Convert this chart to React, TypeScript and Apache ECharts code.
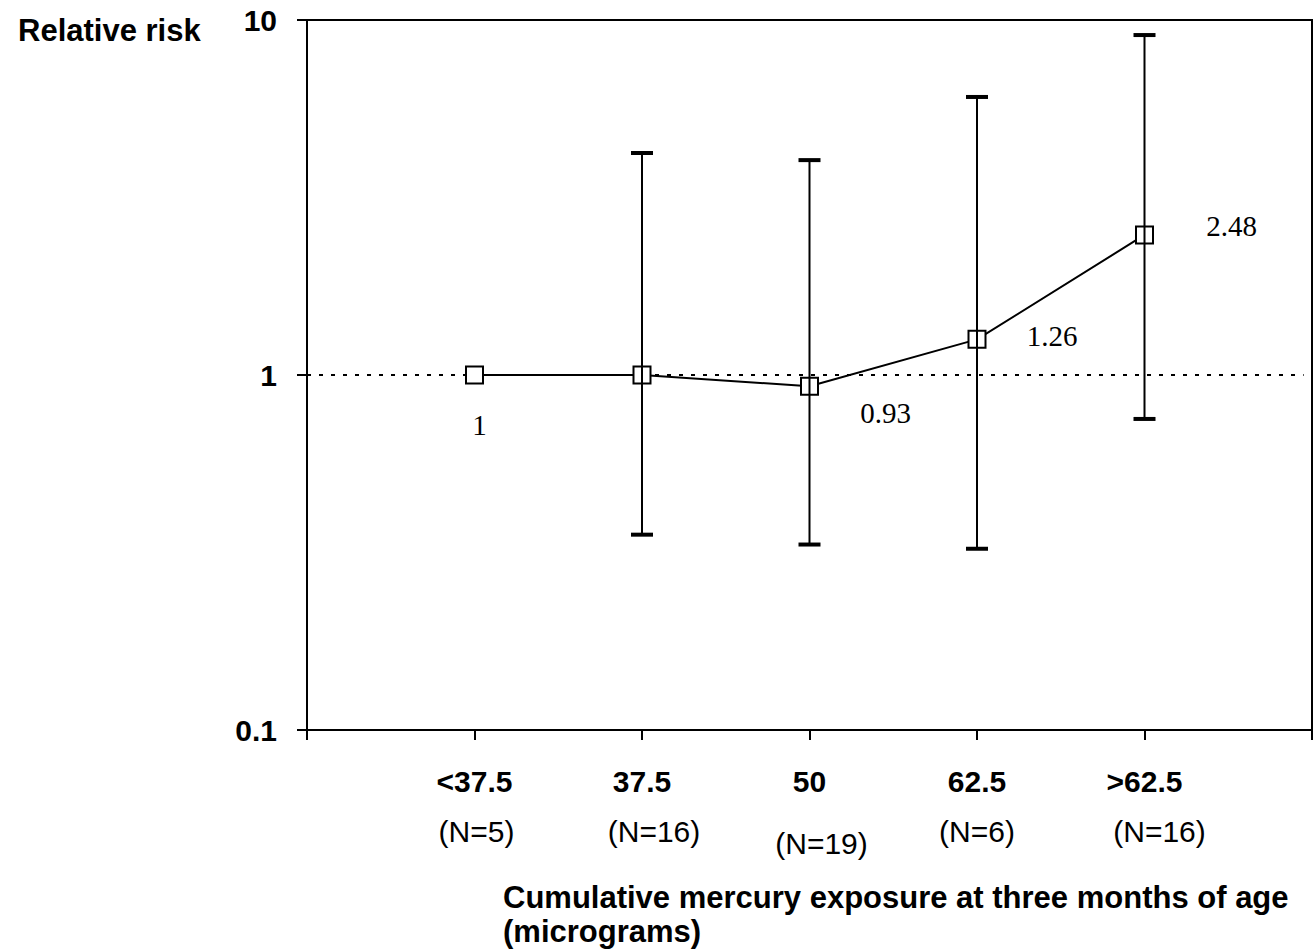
import React, { useEffect, useRef } from "react";
import * as echarts from "echarts";

const CATEGORIES = ["<37.5", "37.5", "50", "62.5", ">62.5"];
const N_LABELS = ["(N=5)", "(N=16)", "(N=19)", "(N=6)", "(N=16)"];
const RELATIVE_RISK = [1, 1.0, 0.93, 1.26, 2.48];
const RR_LABELS = ["1", "", "0.93", "1.26", "2.48"];
const CI_LOW: (number | null)[] = [null, 0.355, 0.333, 0.324, 0.752];
const CI_HIGH: (number | null)[] = [null, 4.22, 4.03, 6.07, 9.07];
const Y_TICK_LABELS = ["0.1", "1", "10"];
const Y_TITLE = "Relative risk";
const X_TITLE = "Cumulative mercury exposure at three months of age\n(micrograms)";

// styling: label offsets (px) and N-label shifts
const LABEL_OFFSETS: [number, number][] = [
  [5, 50],
  [0, 0],
  [76, 27],
  [75, -3],
  [87, -9],
];
const N_SHIFT = [2, 12, 12, 0, 15];
const N_LINE_HEIGHT = [50, 50, 74, 50, 50];

const SANS = "'Liberation Sans', Arial, Helvetica, sans-serif";
const SERIF = "'Liberation Serif', 'Times New Roman', Times, serif";

export default function App() {
  const ref = useRef<HTMLDivElement>(null);

  useEffect(() => {
    if (!ref.current) return;
    const chart = echarts.init(ref.current, undefined, { renderer: "svg" });

    const lineData = RELATIVE_RISK.map((v, i) => ({
      value: [i + 1, v],
      label: {
        show: RR_LABELS[i] !== "",
        formatter: RR_LABELS[i],
        position: "inside",
        offset: LABEL_OFFSETS[i],
        fontFamily: SERIF,
        fontSize: 29,
        color: "#000",
      },
    }));

    const errData: any[] = [];
    CI_LOW.forEach((lo, i) => {
      const hi = CI_HIGH[i];
      if (lo != null && hi != null) errData.push([i + 1, lo, hi]);
    });

    const rich: any = {
      b: { fontFamily: SANS, fontSize: 30, fontWeight: "bold", color: "#000", lineHeight: 50 },
    };
    N_LABELS.forEach((_, i) => {
      rich["n" + i] = {
        fontFamily: SANS,
        fontSize: 30,
        color: "#000",
        lineHeight: N_LINE_HEIGHT[i],
        padding: N_SHIFT[i] >= 0 ? [0, 0, 0, N_SHIFT[i] * 2] : [0, -N_SHIFT[i] * 2, 0, 0],
      };
    });

    const option: any = {
      animation: false,
      backgroundColor: "#fff",
      title: [
        {
          text: Y_TITLE,
          left: 13,
          top: 10,
          textStyle: { fontFamily: SANS, fontSize: 31, fontWeight: "bold", color: "#000", lineHeight: 31 },
        },
        {
          text: X_TITLE,
          left: 498,
          top: 875,
          textStyle: { fontFamily: SANS, fontSize: 31, fontWeight: "bold", color: "#000", lineHeight: 34 },
        },
      ],
      grid: {
        left: 307,
        top: 20,
        right: 2,
        bottom: 222,
        show: true,
        borderColor: "#000",
        borderWidth: 2,
        backgroundColor: "transparent",
      },
      xAxis: {
        type: "value",
        min: 0,
        max: 6,
        interval: 1,
        axisLine: { lineStyle: { color: "#000", width: 2 } },
        axisTick: { show: true, inside: false, length: 10, lineStyle: { color: "#000", width: 2 } },
        splitLine: { show: false },
        axisLabel: {
          margin: 26,
          showMinLabel: true,
          showMaxLabel: true,
          formatter: (v: number) => {
            const i = Math.round(v) - 1;
            if (i < 0 || i >= CATEGORIES.length) return "";
            return `{b|${CATEGORIES[i]}}\n{n${i}|${N_LABELS[i]}}`;
          },
          rich,
        },
      },
      yAxis: {
        type: "log",
        logBase: 10,
        min: 0.1,
        max: 10,
        axisLine: { lineStyle: { color: "#000", width: 2 } },
        axisTick: { show: true, inside: false, length: 10, lineStyle: { color: "#000", width: 2 } },
        minorTick: { show: false },
        splitLine: { show: false },
        axisLabel: {
          margin: 30,
          fontFamily: SANS,
          fontSize: 30,
          fontWeight: "bold",
          color: "#000",
          formatter: (v: number) => {
            const e = Math.round(Math.log10(v));
            return Y_TICK_LABELS[e + 1] ?? "";
          },
        },
      },
      series: [
        {
          type: "line",
          data: lineData,
          z: 3,
          symbol: "rect",
          symbolSize: 17,
          lineStyle: { color: "#000", width: 2 },
          itemStyle: { color: "#fff", borderColor: "#000", borderWidth: 2 },
          markLine: {
            silent: true,
            symbol: "none",
            label: { show: false },
            lineStyle: { color: "#000", width: 2, type: [4, 8] },
            data: [[{ coord: [0, 1] }, { coord: [5.95, 1] }]],
            z: 1,
          },
        },
        {
          type: "custom",
          z: 4,
          data: errData,
          encode: { x: 0, y: [1, 2] },
          renderItem: (params: any, api: any) => {
            const x = api.value(0);
            const lo = api.value(1);
            const hi = api.value(2);
            const pHi = api.coord([x, hi]);
            const pLo = api.coord([x, lo]);
            const hw = 11;
            return {
              type: "group",
              children: [
                {
                  type: "line",
                  shape: { x1: pHi[0], y1: pHi[1], x2: pLo[0], y2: pLo[1] },
                  style: { stroke: "#000", lineWidth: 2 },
                },
                {
                  type: "line",
                  shape: { x1: pHi[0] - hw, y1: pHi[1], x2: pHi[0] + hw, y2: pHi[1] },
                  style: { stroke: "#000", lineWidth: 4 },
                },
                {
                  type: "line",
                  shape: { x1: pLo[0] - hw, y1: pLo[1], x2: pLo[0] + hw, y2: pLo[1] },
                  style: { stroke: "#000", lineWidth: 4 },
                },
              ],
            };
          },
        },
      ],
    };

    chart.setOption(option);
    return () => chart.dispose();
  }, []);

  return (
    <div
      ref={ref}
      style={{ position: "fixed", left: 0, top: 0, width: 1315, height: 952, background: "#fff" }}
    />
  );
}
